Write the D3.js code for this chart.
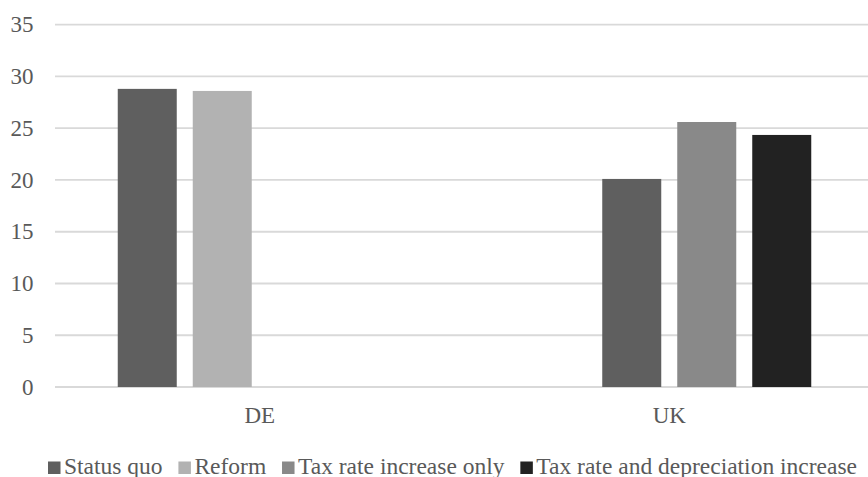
<!DOCTYPE html>
<html>
<head>
<meta charset="utf-8">
<script src="https://cdn.jsdelivr.net/npm/d3@7"></script>
<style>
  html, body { margin: 0; padding: 0; background: #fff; }
  svg { display: block; }
  text { font-family: "Liberation Serif", "Times New Roman", Times, serif; fill: #595959; }
</style>
</head>
<body>
<svg id="chart" width="868" height="477"></svg>
<script>
// ---- data ----
const categories = ["DE", "UK"];
const seriesNames = ["Status quo", "Reform", "Tax rate increase only", "Tax rate and depreciation increase"];
const statusQuo = [28.8, 20.1];
const reform = [28.6, null];
const taxRateOnly = [null, 25.6];
const taxRateDepreciation = [null, 24.35];
const yTicks = [0, 5, 10, 15, 20, 25, 30, 35];
const seriesColors = ["#5f5f5f", "#b2b2b2", "#898989", "#222222"];

const seriesValues = [statusQuo, reform, taxRateOnly, taxRateDepreciation];

// ---- layout ----
const W = 868, H = 477;
const plotLeft = 55, plotRight = 874;
const yTop = 24.7, yBottom = 387;
const fontSize = 23;

const svg = d3.select("#chart");

const y = d3.scaleLinear().domain([0, 35]).range([yBottom, yTop]);
const x = d3.scaleBand().domain(categories).range([plotLeft, plotRight]);
const slots = [0, 1, 2, 3];
const xSlot = d3.scaleBand().domain(slots).range([-142, 142]).paddingInner(16 / 75);

// gridlines
svg.append("g").selectAll("line")
  .data(yTicks)
  .join("line")
  .attr("x1", plotLeft).attr("x2", W)
  .attr("y1", d => y(d)).attr("y2", d => y(d))
  .attr("stroke", "#d9d9d9")
  .attr("stroke-width", 1.8);

// y tick labels
svg.append("g").selectAll("text")
  .data(yTicks)
  .join("text")
  .attr("x", 33.5)
  .attr("y", d => y(d) + 7.6)
  .attr("text-anchor", "end")
  .attr("font-size", fontSize)
  .text(d => d);

// bars: in the reference the UK cluster is packed into the right-hand slots
function slotFor(catIndex, seriesIndex) {
  if (categories[catIndex] === "UK" && seriesIndex === 0) return 1;
  return seriesIndex;
}

const bars = [];
seriesValues.forEach((vals, si) => {
  vals.forEach((v, ci) => {
    if (v !== null && v !== undefined) {
      bars.push({ cat: categories[ci], ci, si, value: v });
    }
  });
});

svg.append("g").selectAll("rect")
  .data(bars)
  .join("rect")
  .attr("x", d => x(d.cat) + x.bandwidth() / 2 + xSlot(slotFor(d.ci, d.si)))
  .attr("width", xSlot.bandwidth())
  .attr("y", d => y(d.value))
  .attr("height", d => y(0) - y(d.value))
  .attr("fill", d => seriesColors[d.si]);

// category labels
svg.append("g").selectAll("text")
  .data(categories)
  .join("text")
  .attr("x", d => x(d) + x.bandwidth() / 2)
  .attr("y", 423)
  .attr("text-anchor", "middle")
  .attr("font-size", fontSize)
  .text(d => d);

// legend
const legend = svg.append("g");
const sq = 12.5, sqGap = 3.5;
const legendBaseline = 473.5;
const legendLeft = 48, legendRight = 857;
const items = seriesNames.map((name, i) => {
  const g = legend.append("g");
  g.append("rect")
    .attr("x", 0).attr("y", legendBaseline - 12)
    .attr("width", sq).attr("height", sq)
    .attr("fill", seriesColors[i]);
  const t = g.append("text")
    .attr("x", sq + sqGap)
    .attr("y", legendBaseline)
    .attr("font-size", 23.5)
    .text(name);
  return { g, w: sq + sqGap + t.node().getComputedTextLength() };
});
const sumW = d3.sum(items, d => d.w);
const itemGap = Math.max(3, (legendRight - legendLeft - sumW) / (items.length - 1));
const totalW = sumW + itemGap * (items.length - 1);
let cx = (legendLeft + legendRight) / 2 - totalW / 2;
items.forEach(it => {
  it.g.attr("transform", `translate(${cx},0)`);
  cx += it.w + itemGap;
});
</script>
</body>
</html>
